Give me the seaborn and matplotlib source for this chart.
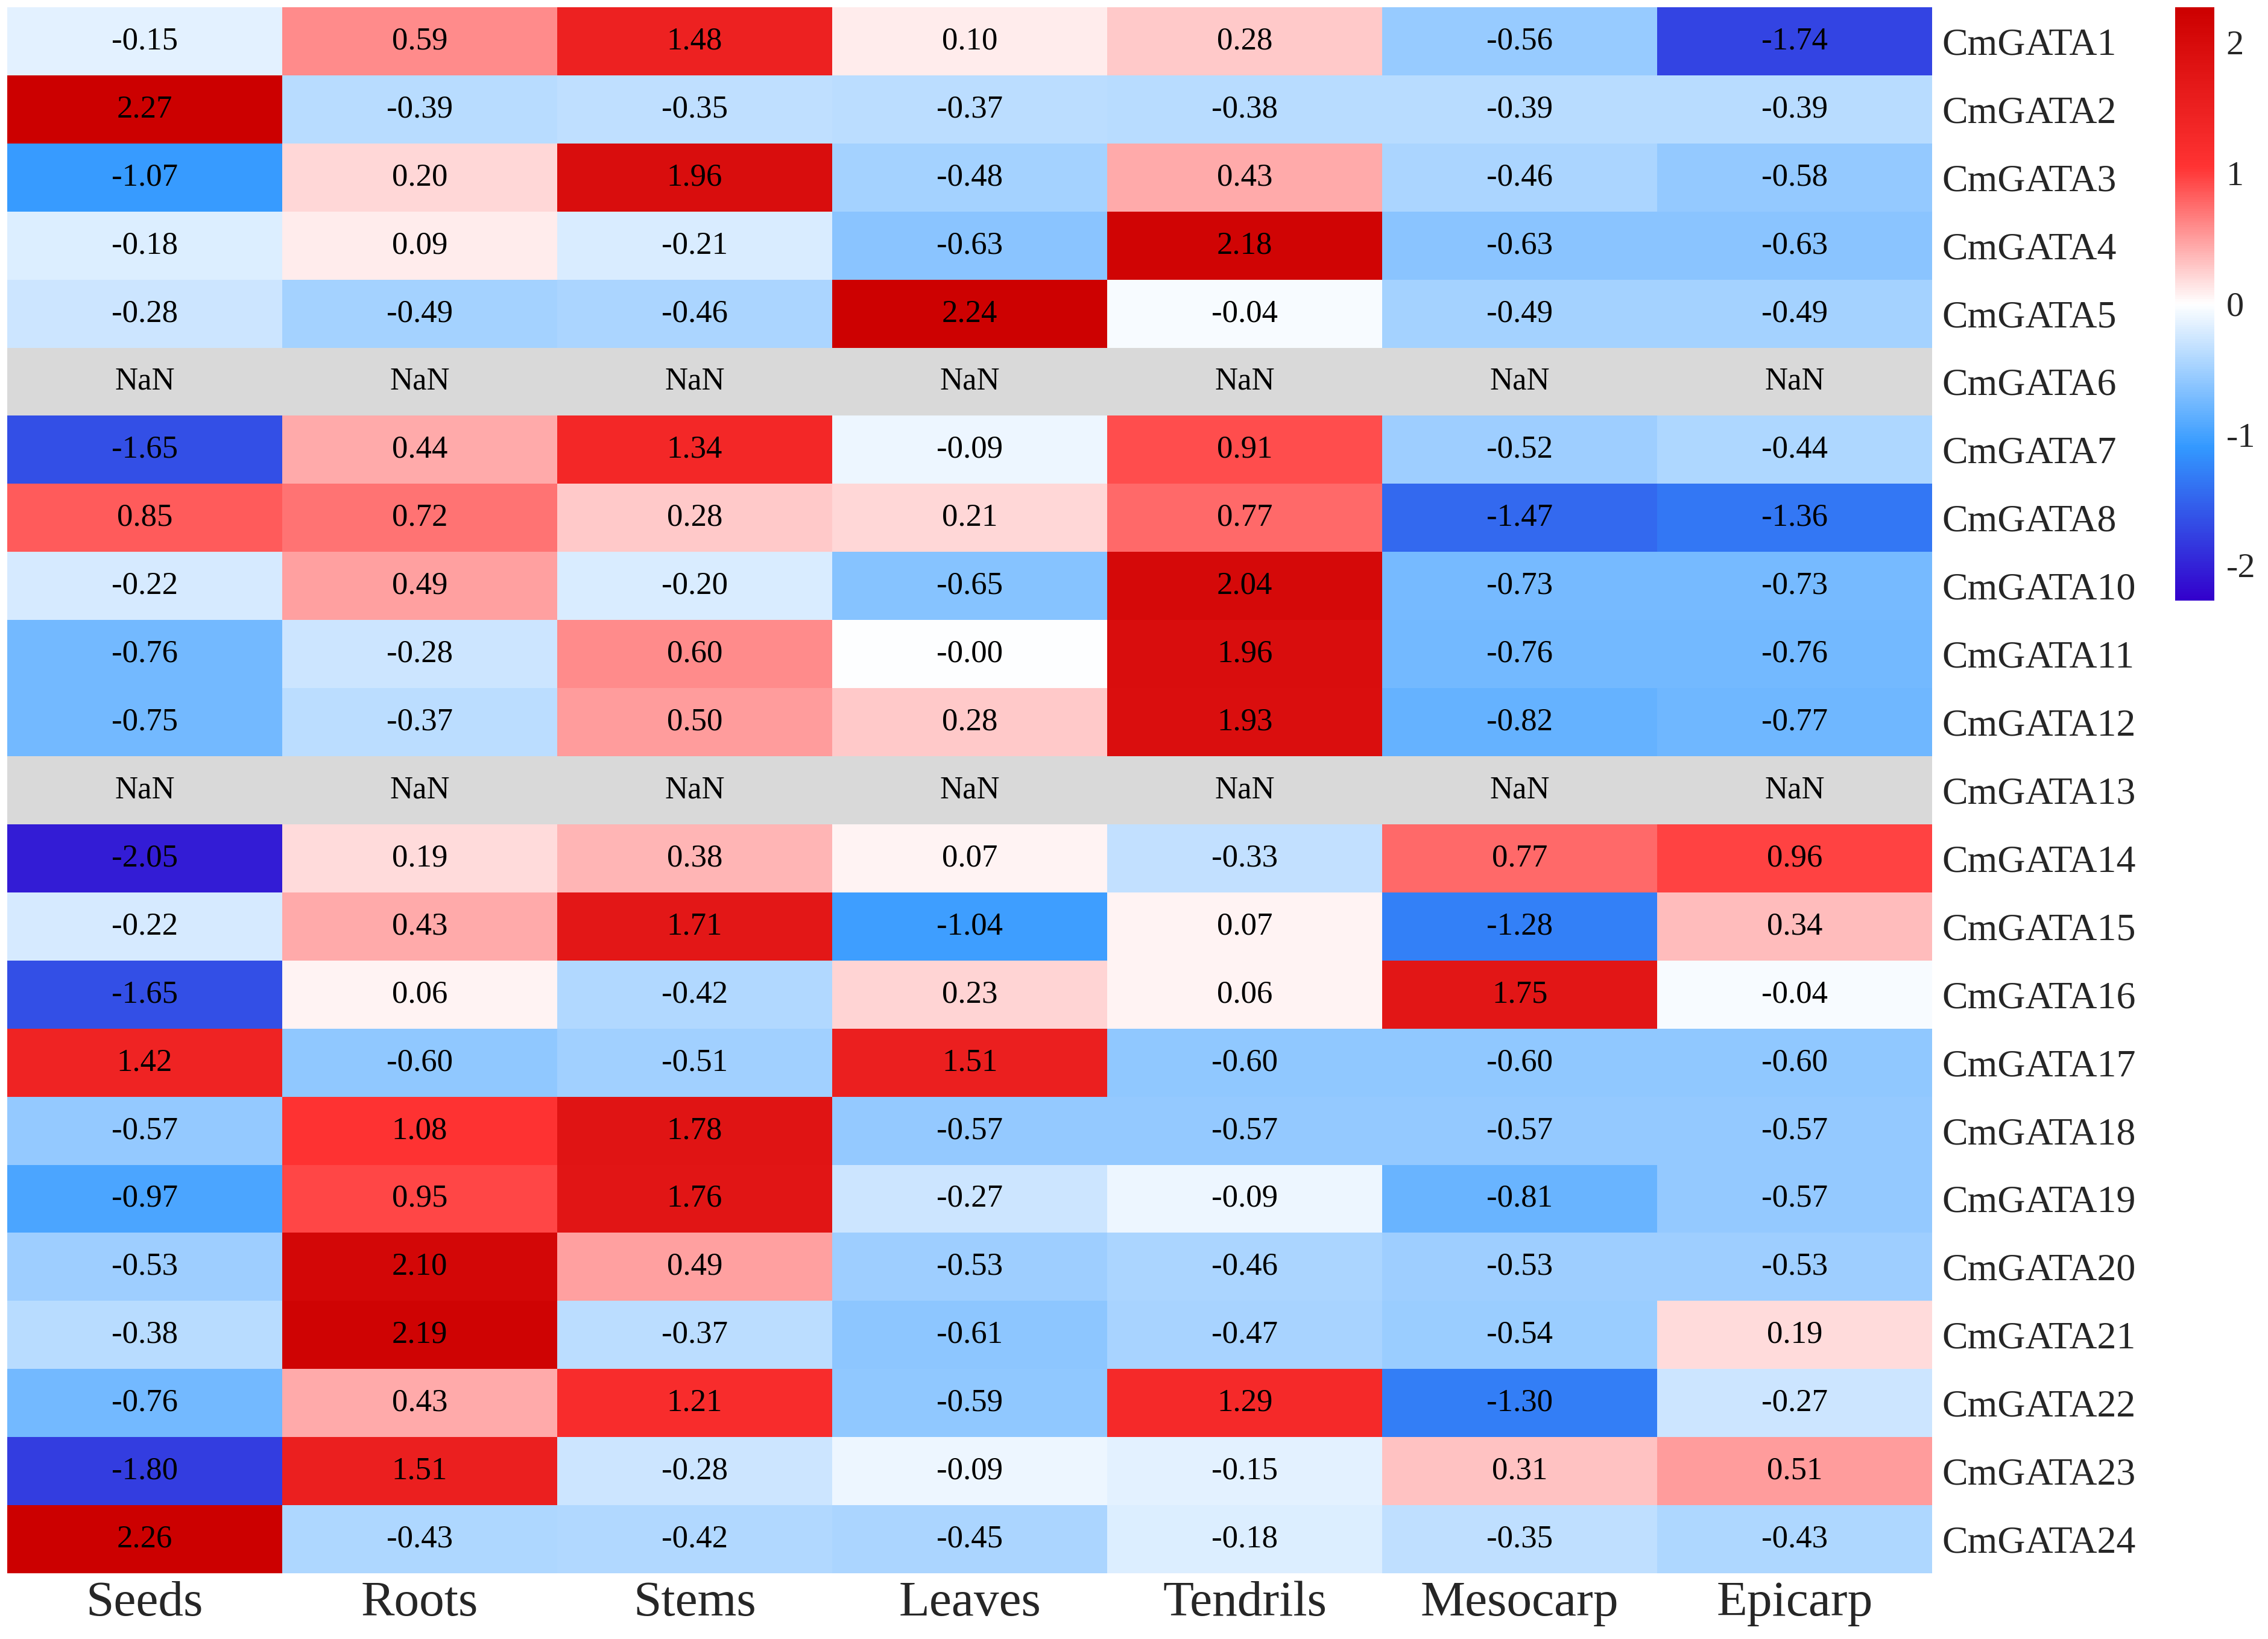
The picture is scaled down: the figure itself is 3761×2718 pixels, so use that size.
import numpy as np
import pandas as pd
import matplotlib
matplotlib.use("Agg")
import matplotlib.pyplot as plt
import seaborn as sns
from matplotlib.colors import LinearSegmentedColormap

# expression z-scores per tissue
genes = ["CmGATA1", "CmGATA2", "CmGATA3", "CmGATA4", "CmGATA5", "CmGATA6",
         "CmGATA7", "CmGATA8", "CmGATA10", "CmGATA11", "CmGATA12", "CmGATA13",
         "CmGATA14", "CmGATA15", "CmGATA16", "CmGATA17", "CmGATA18", "CmGATA19",
         "CmGATA20", "CmGATA21", "CmGATA22", "CmGATA23", "CmGATA24"]
tissues = ["Seeds", "Roots", "Stems", "Leaves", "Tendrils", "Mesocarp", "Epicarp"]

nan = np.nan
seeds = [-0.15, 2.27, -1.07, -0.18, -0.28, nan, -1.65, 0.85, -0.22, -0.76, -0.75, nan,
         -2.05, -0.22, -1.65, 1.42, -0.57, -0.97, -0.53, -0.38, -0.76, -1.80, 2.26]
roots = [0.59, -0.39, 0.20, 0.09, -0.49, nan, 0.44, 0.72, 0.49, -0.28, -0.37, nan,
         0.19, 0.43, 0.06, -0.60, 1.08, 0.95, 2.10, 2.19, 0.43, 1.51, -0.43]
stems = [1.48, -0.35, 1.96, -0.21, -0.46, nan, 1.34, 0.28, -0.20, 0.60, 0.50, nan,
         0.38, 1.71, -0.42, -0.51, 1.78, 1.76, 0.49, -0.37, 1.21, -0.28, -0.42]
leaves = [0.10, -0.37, -0.48, -0.63, 2.24, nan, -0.09, 0.21, -0.65, -0.001, 0.28, nan,
          0.07, -1.04, 0.23, 1.51, -0.57, -0.27, -0.53, -0.61, -0.59, -0.09, -0.45]
tendrils = [0.28, -0.38, 0.43, 2.18, -0.04, nan, 0.91, 0.77, 2.04, 1.96, 1.93, nan,
            -0.33, 0.07, 0.06, -0.60, -0.57, -0.09, -0.46, -0.47, 1.29, -0.15, -0.18]
mesocarp = [-0.56, -0.39, -0.46, -0.63, -0.49, nan, -0.52, -1.47, -0.73, -0.76, -0.82, nan,
            0.77, -1.28, 1.75, -0.60, -0.57, -0.81, -0.53, -0.54, -1.30, 0.31, -0.35]
epicarp = [-1.74, -0.39, -0.58, -0.63, -0.49, nan, -0.44, -1.36, -0.73, -0.76, -0.77, nan,
           0.96, 0.34, -0.04, -0.60, -0.57, -0.57, -0.53, 0.19, -0.27, 0.51, -0.43]

df = pd.DataFrame({"Seeds": seeds, "Roots": roots, "Stems": stems, "Leaves": leaves,
                   "Tendrils": tendrils, "Mesocarp": mesocarp, "Epicarp": epicarp},
                  index=genes)

sns.set_style("white")
plt.rcParams["font.family"] = ["Liberation Serif", "DejaVu Serif"]
plt.rcParams["axes.unicode_minus"] = False

vlim = 2.27
nodes = [-vlim, -1.1, 0.0, 1.05, vlim]
node_colors = ["#3300cc", "#3399ff", "#ffffff", "#ff3333", "#cc0000"]
cmap = LinearSegmentedColormap.from_list(
    "bwr_custom", [((v + vlim) / (2 * vlim), c) for v, c in zip(nodes, node_colors)])

fig = plt.figure(figsize=(37.62, 27.18), dpi=100)
ax = fig.add_axes([0.0032, 0.0401, 0.8485, 0.9555])
cax = fig.add_axes([0.9588, 0.6336, 0.0173, 0.362])

sns.heatmap(df, ax=ax, cbar_ax=cax, cmap=cmap, vmin=-vlim, vmax=vlim,
            annot=True, fmt=".2f", annot_kws={"size": 38, "color": "black"},
            linewidths=0)
ax.set_facecolor("#d9d9d9")

# NaN cells get their own label
for i, g in enumerate(genes):
    for j, t in enumerate(tissues):
        if np.isnan(df.loc[g, t]):
            ax.text(j + 0.5, i + 0.5, "NaN", ha="center", va="center",
                    fontsize=38, color="black")

ax.yaxis.tick_right()
ax.set_yticklabels(genes, rotation=0, fontsize=46)
ax.set_xticklabels(tissues, rotation=0, fontsize=60)
ax.tick_params(axis="both", length=0)
ax.tick_params(axis="y", pad=12)
ax.tick_params(axis="x", pad=9)
ax.set_xlabel("")
ax.set_ylabel("")

cbar = ax.collections[0].colorbar
cbar.set_ticks([-2, -1, 0, 1, 2])
cbar.ax.tick_params(labelsize=42, length=0, pad=14)
cbar.outline.set_visible(False)

fig.savefig("out.png", dpi=100)
